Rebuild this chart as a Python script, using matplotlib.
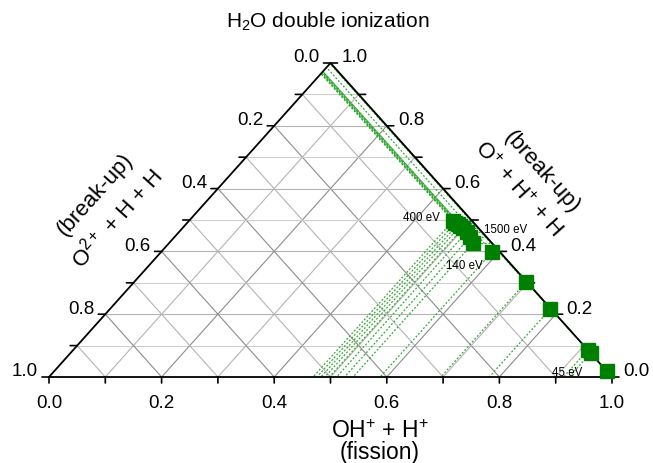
import matplotlib.pyplot as plt
import numpy as np

plt.rcParams['font.family'] = ['Liberation Sans', 'DejaVu Sans']
plt.rcParams['mathtext.fontset'] = 'custom'
plt.rcParams['mathtext.rm'] = 'Liberation Sans'
plt.rcParams['mathtext.it'] = 'Liberation Sans:italic'

# fractions of each channel (fission, O+ break-up, O2+ break-up)
fission = np.array([0.469, 0.476, 0.483, 0.490, 0.498, 0.511, 0.525, 0.540,
                    0.588, 0.696, 0.782, 0.914, 0.924, 0.981])
breakup_o1 = np.array([0.497, 0.492, 0.487, 0.481, 0.475, 0.462, 0.446, 0.427,
                       0.398, 0.302, 0.217, 0.086, 0.076, 0.019])
breakup_o2 = 1 - fission - breakup_o1

energy_labels = ['400 eV', '1500 eV', '140 eV', '45 eV']
tick_values = np.round(np.arange(0, 1.01, 0.1), 1)
label_values = [0.0, 0.2, 0.4, 0.6, 0.8, 1.0]

W, H = 653, 463
fig = plt.figure(figsize=(W / 100, H / 100), dpi=100)
# triangle spans x 49..612 px, y 63..377 px
ax = fig.add_axes([49 / W, (H - 377) / H, 563 / W, 314 / H])
ax.set_xlim(0, 1)
ax.set_ylim(0, 1)
ax.axis('off')


def cart(a, b):
    # a: fission (bottom), b: O+ channel (height)
    return a + b / 2, b


def px(x, y):
    return (x - 49) / 563, (377 - y) / 314


# grid
for v in tick_values[1:-1]:
    major = abs(v * 5 - round(v * 5)) < 1e-6
    dcol = '#8c8c8c' if major else '#b4b4b4'
    hcol = '#b4b4b4' if major else '#cfcfcf'
    # b = const (horizontal)
    x0, y0 = cart(0, v)
    x1, y1 = cart(1 - v, v)
    ax.plot([x0, x1], [y0, y1], color=hcol, lw=0.8, zorder=1)
    # a = const (parallel to left edge)
    x0, y0 = cart(v, 0)
    x1, y1 = cart(v, 1 - v)
    ax.plot([x0, x1], [y0, y1], color=dcol, lw=0.8, zorder=1)
    # c = const (parallel to right edge)
    x0, y0 = cart(1 - v, 0)
    x1, y1 = cart(0, 1 - v)
    ax.plot([x0, x1], [y0, y1], color=dcol, lw=0.8, zorder=1)

# drop lines from every point to the three axes
for a, b, c in zip(fission, breakup_o1, breakup_o2):
    p = cart(a, b)
    for q in (cart(a, 0), cart(0, 1 - c), cart(1 - b, b)):
        ax.plot([p[0], q[0]], [p[1], q[1]], color='#35a835', lw=0.9,
                ls=(0, (1.5, 1.5)), zorder=2, clip_on=False)

xs, ys = cart(fission, breakup_o1)
ax.plot(xs, ys, ls='none', marker='s', ms=9.5, color='#008000',
        mec='#008000', zorder=4, clip_on=False)

# triangle frame
ax.plot([0, 1, 0.5, 0], [0, 0, 1, 0], color='black', lw=1.3, zorder=3,
        clip_on=False)

# ticks and tick labels
for v in tick_values:
    bx, by = cart(v, 0)
    ax.annotate('', xy=(bx, by), xytext=(0, -6), textcoords='offset pixels',
                arrowprops=dict(arrowstyle='-', lw=1.2, color='black',
                                shrinkA=0, shrinkB=0))
    lx, ly = cart(0, 1 - v)
    ax.annotate('', xy=(lx, ly), xytext=(-7, 0), textcoords='offset pixels',
                arrowprops=dict(arrowstyle='-', lw=1.2, color='black',
                                shrinkA=0, shrinkB=0))
    rx, ry = cart(1 - v, v)
    ax.annotate('', xy=(rx, ry), xytext=(7, 0), textcoords='offset pixels',
                arrowprops=dict(arrowstyle='-', lw=1.2, color='black',
                                shrinkA=0, shrinkB=0))

for v in label_values:
    s = f'{v:.1f}'
    ax.annotate(s, cart(v, 0), xytext=(0, -26), textcoords='offset pixels',
                ha='center', va='center', fontsize=13.5)
    ax.annotate(s, cart(0, 1 - v), xytext=(-11, 5), textcoords='offset pixels',
                ha='right', va='center', fontsize=13.5)
    ax.annotate(s, cart(1 - v, v), xytext=(11, 5), textcoords='offset pixels',
                ha='left', va='center', fontsize=13.5)

# energy labels
for s, (x, y) in zip(energy_labels, [(421, 218), (506, 230), (464, 266), (567, 373)]):
    ax.text(*px(x, y), s, fontsize=8.3, ha='center', va='center', zorder=5)

# axis titles
ax.text(*px(380, 431), r'OH$^{+}$ + H$^{+}$', fontsize=16.5, ha='center', va='center')
ax.text(*px(380, 452), '(fission)', fontsize=16.5, ha='center', va='center')

ang = np.degrees(np.arctan2(314, 281))
ax.text(*px(95, 195), '(break-up)', fontsize=16, rotation=ang,
        rotation_mode='anchor', ha='center', va='center')
ax.text(*px(117, 218), r'O$^{2+}$ + H + H', fontsize=16, rotation=ang,
        rotation_mode='anchor', ha='center', va='center')
ax.text(*px(542, 172), '(break-up)', fontsize=16, rotation=-ang,
        rotation_mode='anchor', ha='center', va='center')
ax.text(*px(518, 190), r'O$^{+}$ + H$^{+}$ + H', fontsize=16, rotation=-ang,
        rotation_mode='anchor', ha='center', va='center')

fig.text(328 / W, 1 - 22 / H, r'H$_2$O double ionization', fontsize=15,
         ha='center', va='center')

fig.savefig('out.png', dpi=100)
